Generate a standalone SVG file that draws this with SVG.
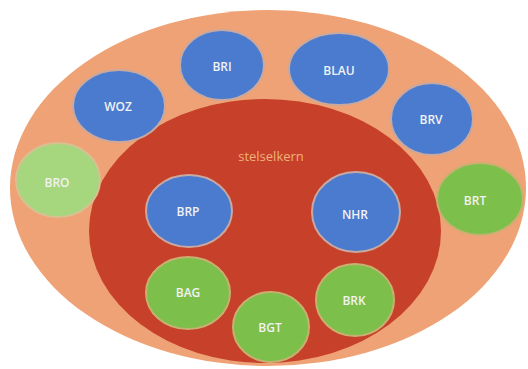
<svg xmlns="http://www.w3.org/2000/svg" width="528" height="369" viewBox="0 0 528 369">
<style>
.blue{fill:#4a7bcf;stroke:#c9a8a0;stroke-width:2}
.green{fill:#7dbf4b;stroke:#c8b070;stroke-width:2}
.lgreen{fill:#a6d67e;stroke:#d8c090;stroke-width:2}
.lbl{font-family:"Open Sans","Liberation Sans",sans-serif;font-size:12px;font-weight:600;fill:#f2f2f2;text-anchor:middle;dominant-baseline:central}
</style>
<rect width="528" height="369" fill="#ffffff"/>
<g id="outer"><ellipse cx="268" cy="188" rx="258" ry="178" fill="#eea275"/></g>
<g id="stelselkern">
<ellipse cx="265" cy="231" rx="176" ry="132" fill="#c6402a"/>
<text x="271" y="156" style="font-family:'Open Sans','Liberation Sans',sans-serif;font-size:13px;fill:#f0b27a;text-anchor:middle;dominant-baseline:central">stelselkern</text>
</g>
<g id="connectors"></g>
<g id="BRI"><ellipse class="blue" cx="222" cy="65" rx="42" ry="35"/><text class="lbl" x="222" y="66">BRI</text></g>
<g id="BLAU"><ellipse class="blue" cx="339" cy="69" rx="50" ry="36"/><text class="lbl" x="339" y="70">BLAU</text></g>
<g id="BRV"><ellipse class="blue" cx="432" cy="119" rx="41" ry="36"/><text class="lbl" x="431" y="119">BRV</text></g>
<g id="WOZ"><ellipse class="blue" cx="119" cy="106" rx="46" ry="36"/><text class="lbl" x="118" y="106">WOZ</text></g>
<g id="BRO"><ellipse class="lgreen" cx="58" cy="180" rx="42" ry="37"/><text class="lbl" x="57" y="182">BRO</text></g>
<g id="BRT"><ellipse class="green" cx="480" cy="199" rx="43" ry="36"/><text class="lbl" x="475" y="200">BRT</text></g>
<g id="BRP"><ellipse class="blue" cx="189" cy="211" rx="43" ry="36"/><text class="lbl" x="188" y="211">BRP</text></g>
<g id="NHR"><ellipse class="blue" cx="356" cy="212" rx="44" ry="40"/><text class="lbl" x="355" y="214">NHR</text></g>
<g id="BAG"><ellipse class="green" cx="188" cy="293" rx="42" ry="36"/><text class="lbl" x="188" y="292">BAG</text></g>
<g id="BRK"><ellipse class="green" cx="355" cy="300" rx="39" ry="36"/><text class="lbl" x="354" y="300">BRK</text></g>
<g id="BGT"><ellipse class="green" cx="271" cy="327" rx="38" ry="35"/><text class="lbl" x="270" y="327">BGT</text></g>
</svg>
